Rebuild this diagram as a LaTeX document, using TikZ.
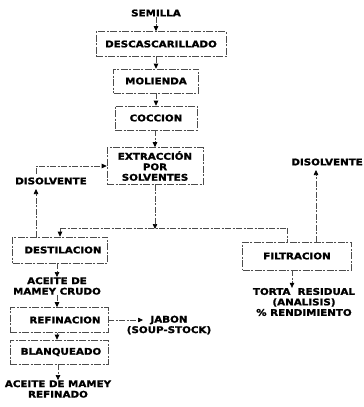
\documentclass[tikz,border=0pt]{standalone}
\usepackage{fontspec}
\newfontfamily\lab{DejaVu Sans}[FakeStretch=1.12,BoldFeatures={FakeBold=1.5}]
\usetikzlibrary{arrows.meta}
\begin{document}
\begin{tikzpicture}[x=1pt,y=-1pt,
  txt/.style={font=\lab\bfseries\fontsize{9.2}{10.5}\selectfont, inner sep=0pt, align=center},
  boxx/.style={draw=black!70, line width=0.6pt, dash pattern=on 7pt off 1.5pt on 2pt off 1.5pt, inner sep=0pt,
               font=\lab\bfseries\fontsize{9.2}{10.5}\selectfont, align=center},
  ln/.style={draw=black!70, line width=0.6pt, dash pattern=on 6pt off 1.5pt on 2pt off 1.5pt},
  arr/.style={ln, -{Triangle[length=5pt,width=4.5pt,color=black]}}]
\useasboundingbox (0,0) rectangle (364,407);

\node[txt] (sem) at (156,13) {SEMILLA};
\node[boxx, minimum width=130pt, minimum height=25pt] (desc) at (161,44) {DESCASCARILLADO};
\node[boxx, minimum width=85pt, minimum height=24pt] (mol) at (156,81) {MOLIENDA};
\node[boxx, minimum width=82pt, minimum height=24pt] (coc) at (156,118) {COCCION};
\node[boxx, minimum width=96pt, minimum height=37pt] (ext) at (155,166) {EXTRACCI\'ON\\POR\\SOLVENTES};
\node[txt] (disL) at (51,181) {DISOLVENTE};
\node[txt, anchor=east] (disR) at (363,162) {DISOLVENTE};
\node[boxx, minimum width=95pt, minimum height=26pt] (dest) at (60,250) {\hspace*{6pt}DESTILACION};
\node[boxx, minimum width=109pt, minimum height=28pt] (filt) at (297,256) {FILTRACION};
\node[txt] (acc) at (57,286) {ACEITE DE\\MAMEY CRUDO};
\node[boxx, minimum width=98pt, minimum height=25pt] (ref) at (59,320) {\hspace*{12pt}REFINACION};
\node[txt] (jab) at (169,325) {JABON\\(SOUP-STOCK)};
\node[boxx, minimum width=98pt, minimum height=24pt] (bla) at (59,352) {\hspace*{4pt}BLANQUEADO};
\node[txt] (acr) at (58,389) {ACEITE DE MAMEY\\REFINADO};
\node[txt] (tor) at (304,302) {TORTA \ RESIDUAL\\(ANALISIS)\\\% RENDIMIENTO};

\coordinate (jc) at (155,228);
\coordinate (jl) at (60,228);
\coordinate (jr) at (287,228);
\coordinate (dlb) at (36,189);
\coordinate (dlt) at (36,174);
\coordinate (drb) at (316,170);
\coordinate (jt) at (143,320);

\draw[arr] (sem) -- (sem |- desc.north);
\draw[arr] (desc.south -| sem) -- (sem |- mol.north);
\draw[arr] (mol.south -| sem) -- (sem |- coc.north);
\draw[arr] (coc.south -| ext.north) -- (ext.north);
\draw[arr] (ext.south) -- ([yshift=-1pt]jc);
\draw[ln] (jl) -- (jr);
\draw[arr] (jl) -- (jl |- dest.north);
\draw[ln] (jr) -- (jr |- filt.north);
\draw[arr] (dest.north -| dlb) -- (dlb);
\draw[arr] (dlt) |- (ext.west);
\draw[arr] (filt.north -| drb) -- (drb);
\draw[arr] (dest.south -| acc) -- (acc.north);
\draw[arr] (acc.south) -- (acc.south |- ref.north);
\draw[arr] (ref.east |- jt) -- (jt);
\draw[arr] (ref.south -| acc) -- (acc |- bla.north);
\draw[arr] (bla.south -| acr) -- (acr.north);
\draw[arr] (filt.south -| 292,0) -- (tor.north -| 292,0);
\end{tikzpicture}
\end{document}
